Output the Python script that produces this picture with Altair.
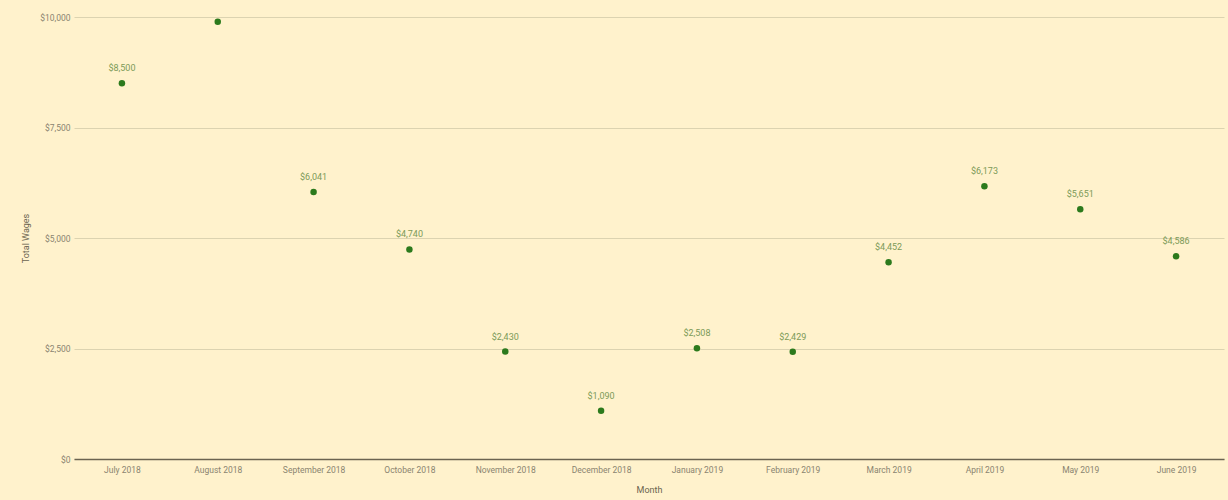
import altair as alt
import pandas as pd

months = ["July 2018", "August 2018", "September 2018", "October 2018", "November 2018",
          "December 2018", "January 2019", "February 2019", "March 2019", "April 2019",
          "May 2019", "June 2019"]
wages = [8500, 9890, 6041, 4740, 2430, 1090, 2508, 2429, 4452, 6173, 5651, 4586]
show_label = [True, False, True, True, True, True, True, True, True, True, True, True]

df = pd.DataFrame({"Month": months, "Wages": wages, "show": show_label})
df["label"] = ["${:,.0f}".format(v) for v in wages]
df.loc[~df["show"], "label"] = ""

FONT = "Roboto"
bg = "#fff2cc"

base = alt.Chart(df).encode(
    x=alt.X("Month:N", sort=months, title="Month",
            scale=alt.Scale(paddingInner=0, paddingOuter=0),
            axis=alt.Axis(labelAngle=0, ticks=False, domain=True, domainColor="#6b6450",
                          domainWidth=1.5, labelColor="#8a8470", labelFontSize=8.5,
                          labelFont=FONT, labelPadding=6, titleFont=FONT, titleFontSize=9,
                          titleFontWeight="normal", titleColor="#6b6450", titlePadding=12)),
    y=alt.Y("Wages:Q", title="Total Wages",
            scale=alt.Scale(domain=[0, 10000], nice=False),
            axis=alt.Axis(values=[0, 2500, 5000, 7500, 10000], format="$,.0f",
                          ticks=False, domain=False, gridColor="#dcd3b0", gridWidth=1,
                          labelColor="#8a8470", labelFontSize=8.5, labelFont=FONT,
                          labelPadding=4, titleFont=FONT, titleFontSize=9,
                          titleFontWeight="normal", titleColor="#6b6450", titlePadding=9)),
)

points = base.mark_circle(size=42, color="#2c7a1c", opacity=1)
labels = base.mark_text(dy=-15, font=FONT, fontSize=9, color="#7c9a58").encode(text="label:N")

chart = (points + labels).properties(
    width=1150, height=442,
    background=bg,
    padding={"left": 74, "top": 17, "right": 4, "bottom": 41},
    autosize=alt.AutoSizeParams(type="none"),
).configure_view(stroke=None).configure_axisX(grid=False)

chart.save("out.html", embed_options={"renderer": "svg", "actions": False})
